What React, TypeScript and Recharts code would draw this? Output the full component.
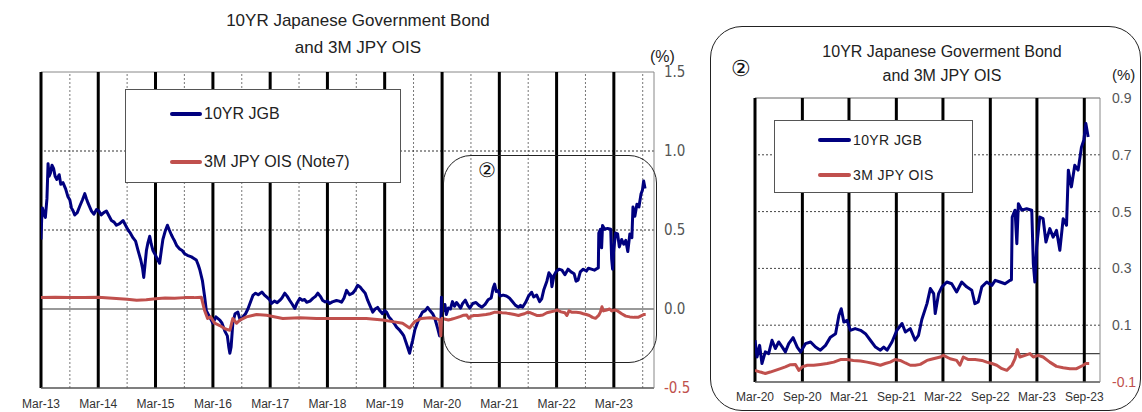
import React from 'react';
import { LineChart, Line, XAxis, YAxis, ReferenceLine, Legend } from 'recharts';

const NARROW = "'Liberation Sans Narrow', 'DejaVu Sans Condensed', 'Arial Narrow', sans-serif";
const SANS = "'Liberation Sans', Arial, sans-serif";

const JGB_COLOR = '#00007f';
const OIS_COLOR = '#c0504d';

// 10YR JGB yield (%)
const jgbDates = [
  '2013-03-01', '2013-03-05', '2013-03-10', '2013-03-20', '2013-03-29', '2013-04-08', '2013-04-15', '2013-04-22',
  '2013-04-30', '2013-05-10', '2013-05-20', '2013-05-30', '2013-06-10', '2013-06-25', '2013-07-05', '2013-07-19',
  '2013-08-05', '2013-08-20', '2013-09-01', '2013-09-11', '2013-09-22', '2013-10-02', '2013-10-18', '2013-11-03',
  '2013-11-20', '2013-12-05', '2013-12-15', '2013-12-26', '2014-01-08', '2014-01-17', '2014-02-01', '2014-02-18',
  '2014-03-05', '2014-03-20', '2014-04-05', '2014-04-22', '2014-05-08', '2014-05-24', '2014-06-10', '2014-06-25',
  '2014-07-15', '2014-08-06', '2014-08-22', '2014-09-07', '2014-09-22', '2014-10-09', '2014-10-25', '2014-11-10',
  '2014-11-27', '2014-12-08', '2014-12-16', '2014-12-24', '2015-01-02', '2015-01-12', '2015-01-23', '2015-02-02',
  '2015-02-13', '2015-02-24', '2015-03-06', '2015-03-16', '2015-03-27', '2015-04-07', '2015-04-17', '2015-05-01',
  '2015-05-16', '2015-05-28', '2015-06-10', '2015-06-20', '2015-07-01', '2015-07-15', '2015-08-02', '2015-08-18',
  '2015-09-03', '2015-09-20', '2015-10-16', '2015-11-01', '2015-11-16', '2015-11-28', '2015-12-08', '2015-12-25',
  '2016-01-08', '2016-01-19', '2016-02-09', '2016-03-01', '2016-03-20', '2016-04-14', '2016-04-28', '2016-05-16',
  '2016-06-01', '2016-06-10', '2016-06-17', '2016-06-25', '2016-07-06', '2016-07-20', '2016-08-07', '2016-08-22',
  '2016-09-08', '2016-09-25', '2016-10-10', '2016-10-23', '2016-11-11', '2016-11-28', '2016-12-15', '2017-01-07',
  '2017-01-22', '2017-02-08', '2017-02-25', '2017-03-10', '2017-03-28', '2017-04-15', '2017-05-01', '2017-05-15',
  '2017-06-02', '2017-06-18', '2017-07-04', '2017-07-20', '2017-08-05', '2017-08-20', '2017-09-06', '2017-09-22',
  '2017-10-06', '2017-10-20', '2017-11-10', '2017-11-28', '2017-12-15', '2017-12-30', '2018-01-15', '2018-01-30',
  '2018-02-15', '2018-03-01', '2018-03-15', '2018-04-01', '2018-04-28', '2018-05-15', '2018-05-30', '2018-06-15',
  '2018-07-01', '2018-07-20', '2018-08-09', '2018-08-25', '2018-09-10', '2018-09-25', '2018-10-12', '2018-10-28',
  '2018-11-13', '2018-11-28', '2018-12-15', '2018-12-30', '2019-01-15', '2019-01-28', '2019-02-15', '2019-03-01',
  '2019-03-13', '2019-03-28', '2019-04-14', '2019-04-30', '2019-05-16', '2019-06-01', '2019-06-17', '2019-07-01',
  '2019-07-18', '2019-07-28', '2019-08-07', '2019-08-16', '2019-08-26', '2019-09-10', '2019-09-27', '2019-10-12',
  '2019-10-28', '2019-11-15', '2019-11-30', '2019-12-15', '2020-01-01', '2020-01-15', '2020-02-01', '2020-02-14',
  '2020-02-22', '2020-02-26',
  '2020-03-01', '2020-03-09', '2020-03-19', '2020-03-28', '2020-04-10', '2020-04-23', '2020-05-06', '2020-05-19',
  '2020-06-01', '2020-06-15', '2020-06-27', '2020-07-10', '2020-07-27', '2020-08-12', '2020-08-25', '2020-09-13',
  '2020-10-03', '2020-10-22', '2020-11-10', '2020-11-30', '2020-12-19', '2021-01-08', '2021-01-21', '2021-01-30',
  '2021-02-09', '2021-02-22', '2021-03-06', '2021-03-25', '2021-04-15', '2021-05-04', '2021-05-23', '2021-06-12',
  '2021-07-01', '2021-07-14', '2021-07-27', '2021-08-15', '2021-09-03', '2021-09-23', '2021-10-06', '2021-10-25',
  '2021-11-13', '2021-11-26', '2021-12-09', '2021-12-29', '2022-01-11', '2022-01-24', '2022-01-30', '2022-02-12',
  '2022-02-25', '2022-03-16', '2022-04-04', '2022-04-23', '2022-05-13', '2022-06-01', '2022-06-21', '2022-07-03',
  '2022-07-16', '2022-07-30', '2022-08-18', '2022-09-07', '2022-09-20', '2022-10-09', '2022-10-28', '2022-11-17',
  '2022-11-22', '2022-11-25', '2022-12-06', '2022-12-13', '2022-12-19', '2023-01-01', '2023-01-20', '2023-02-09',
  '2023-02-15', '2023-02-21', '2023-02-28', '2023-03-12', '2023-03-25', '2023-04-05', '2023-04-20', '2023-05-03',
  '2023-05-16', '2023-05-29', '2023-06-11', '2023-06-24', '2023-07-01', '2023-07-13', '2023-07-26', '2023-08-08',
  '2023-08-21', '2023-08-30', '2023-09-07', '2023-09-16',
];
const jgbYields = [
  0.44, 0.56, 0.64, 0.60, 0.58, 0.70, 0.92, 0.84,
  0.86, 0.91, 0.89, 0.84, 0.82, 0.85, 0.79, 0.80,
  0.76, 0.71, 0.69, 0.64, 0.62, 0.595, 0.61, 0.65,
  0.69, 0.73, 0.70, 0.67, 0.64, 0.62, 0.60, 0.63,
  0.62, 0.595, 0.61, 0.62, 0.59, 0.56, 0.55, 0.53,
  0.54, 0.56, 0.53, 0.50, 0.48, 0.45, 0.43, 0.37,
  0.31, 0.26, 0.20, 0.28, 0.37, 0.42, 0.46, 0.41,
  0.37, 0.35, 0.33, 0.31, 0.29, 0.37, 0.44, 0.49,
  0.53, 0.50, 0.47, 0.45, 0.43, 0.40, 0.38, 0.37,
  0.35, 0.34, 0.33, 0.32, 0.31, 0.28, 0.25, 0.18,
  0.08, -0.01, -0.05, -0.09, -0.05, -0.07, -0.09, -0.14,
  -0.17, -0.24, -0.28, -0.24, -0.09, -0.03, -0.02, -0.07,
  -0.05, -0.03, 0.0, 0.035, 0.086, 0.10, 0.09, 0.107,
  0.09, 0.075, 0.06, 0.035, 0.05, 0.04, 0.054, 0.07,
  0.10, 0.08, 0.054, 0.03, 0.003, 0.04, 0.067, 0.055,
  0.06, 0.043, 0.05, 0.067, 0.08, 0.10, 0.08, 0.054,
  0.045, 0.05, 0.035, 0.045, 0.054, 0.05, 0.043, 0.07,
  0.118, 0.09, 0.10, 0.12, 0.15, 0.14, 0.118, 0.10,
  0.054, 0.02, -0.02, 0.0, 0.01, -0.01, -0.03, -0.01,
  -0.02, -0.05, -0.07, -0.09, -0.115, -0.13, -0.15, -0.17,
  -0.22, -0.25, -0.28, -0.24, -0.20, -0.13, -0.084, -0.05,
  -0.02, -0.01, 0.01, -0.01, -0.03, -0.06, -0.12, -0.17,
  -0.10, 0.075,
  0.047, -0.012, 0.029, -0.035, 0.006, 0.0, 0.047, 0.018,
  0.041, 0.023, 0.006, 0.035, 0.056, 0.023, 0.006, 0.035,
  0.041, 0.023, 0.012, 0.029, 0.058, 0.07, 0.135, 0.158,
  0.111, 0.117, 0.082, 0.088, 0.082, 0.07, 0.047, 0.023,
  0.012, 0.023, 0.012, 0.041, 0.082, 0.106, 0.076, 0.088,
  0.047, 0.064, 0.12, 0.176, 0.229, 0.211, 0.141, 0.211,
  0.235, 0.252, 0.246, 0.217, 0.252, 0.235, 0.223, 0.176,
  0.182, 0.235, 0.252, 0.24, 0.258, 0.252, 0.246, 0.258,
  0.26, 0.481, 0.505, 0.387, 0.528, 0.505, 0.51, 0.505,
  0.317, 0.252, 0.375, 0.481, 0.475, 0.393, 0.44, 0.41,
  0.434, 0.364, 0.475, 0.452, 0.646, 0.587, 0.663, 0.646,
  0.727, 0.751, 0.81, 0.763,
];

// 3M JPY OIS (%)
const oisDates = [
  '2013-03-01', '2013-06-01', '2013-09-01', '2013-12-01', '2014-03-01', '2014-06-01', '2014-09-01', '2014-11-01',
  '2015-01-01', '2015-03-01', '2015-05-01', '2015-07-01', '2015-09-01', '2015-11-01', '2015-12-18', '2016-01-08',
  '2016-01-27', '2016-02-15', '2016-03-12', '2016-04-14', '2016-05-16', '2016-06-17', '2016-07-06', '2016-07-30',
  '2016-08-20', '2016-10-01', '2016-12-04', '2017-02-06', '2017-05-20', '2017-09-06', '2017-12-21', '2018-04-04',
  '2018-07-20', '2018-11-04', '2019-02-16', '2019-04-21', '2019-06-23', '2019-08-07', '2019-09-08', '2019-10-21',
  '2019-12-13', '2020-01-24', '2020-02-14', '2020-02-22', '2020-02-26',
  '2020-03-01', '2020-03-22', '2020-04-10', '2020-04-29', '2020-05-19', '2020-06-08', '2020-06-27', '2020-07-17',
  '2020-08-05', '2020-08-18', '2020-08-31', '2020-09-20', '2020-10-15', '2020-11-10', '2020-12-06', '2021-01-01',
  '2021-01-27', '2021-02-22', '2021-03-18', '2021-04-15', '2021-05-10', '2021-06-05', '2021-07-01', '2021-07-20',
  '2021-08-08', '2021-08-27', '2021-09-16', '2021-10-06', '2021-10-25', '2021-11-13', '2021-12-03', '2021-12-29',
  '2022-01-11', '2022-02-19', '2022-03-03', '2022-03-29', '2022-04-23', '2022-05-06', '2022-05-19', '2022-06-08',
  '2022-07-04', '2022-07-30', '2022-08-18', '2022-09-07', '2022-09-26', '2022-10-16', '2022-11-04', '2022-11-24',
  '2022-12-06', '2022-12-15', '2022-12-25', '2023-01-14', '2023-02-02', '2023-02-15', '2023-03-06', '2023-03-25',
  '2023-04-20', '2023-05-16', '2023-06-11', '2023-07-07', '2023-08-02', '2023-08-28', '2023-09-07', '2023-09-20',
];
const oisRates = [
  0.072, 0.075, 0.073, 0.072, 0.074, 0.068, 0.062, 0.055,
  0.058, 0.065, 0.07, 0.068, 0.072, 0.072, 0.075, -0.01,
  -0.06, -0.05, -0.09, -0.105, -0.125, -0.135, -0.06, -0.09,
  -0.07, -0.05, -0.035, -0.04, -0.06, -0.055, -0.06, -0.06,
  -0.06, -0.06, -0.07, -0.08, -0.09, -0.12, -0.08, -0.06,
  -0.055, -0.06, -0.07, -0.17, -0.07,
  -0.059, -0.065, -0.07, -0.065, -0.059, -0.053, -0.047, -0.039,
  -0.038, -0.059, -0.047, -0.041, -0.041, -0.038, -0.035, -0.03,
  -0.021, -0.021, -0.024, -0.026, -0.03, -0.035, -0.041, -0.035,
  -0.03, -0.021, -0.024, -0.033, -0.041, -0.041, -0.038, -0.024,
  -0.021, -0.012, -0.006, -0.018, -0.024, -0.041, -0.012, -0.021,
  -0.021, -0.024, -0.03, -0.035, -0.041, -0.053, -0.059, -0.041,
  -0.018, 0.014, -0.012, -0.006, 0.0, -0.012, -0.006, -0.012,
  -0.03, -0.045, -0.05, -0.053, -0.053, -0.041, -0.035, -0.035,
];

// axis ticks and guide lines
const leftMarchTicks = [
  '2013-03-01', '2014-03-01', '2015-03-01', '2016-03-01', '2017-03-01', '2018-03-01',
  '2019-03-01', '2020-03-01', '2021-03-01', '2022-03-01', '2023-03-01',
];
const leftSeptLines = [
  '2013-09-01', '2014-09-01', '2015-09-01', '2016-09-01', '2017-09-01', '2018-09-01',
  '2019-09-01', '2020-09-01', '2021-09-01', '2022-09-01', '2023-09-01',
];
const rightTicks = [
  '2020-03-01', '2020-09-01', '2021-03-01', '2021-09-01',
  '2022-03-01', '2022-09-01', '2023-03-01', '2023-09-01',
];
const leftYTicks = [-0.5, 0, 0.5, 1.0, 1.5];
const leftDottedY = [0.5, 1.0];
const rightYTicks = [-0.1, 0.1, 0.3, 0.5, 0.7, 0.9];
const rightDottedY = [0.1, 0.3, 0.5, 0.7];

const ts = (d: string) => Date.UTC(+d.slice(0, 4), +d.slice(5, 7) - 1, +d.slice(8, 10));
const MONTHS = ['Jan', 'Feb', 'Mar', 'Apr', 'May', 'Jun', 'Jul', 'Aug', 'Sep', 'Oct', 'Nov', 'Dec'];
const fmtDate = (t: number) => {
  const d = new Date(t);
  return `${MONTHS[d.getUTCMonth()]}-${String(d.getUTCFullYear()).slice(2)}`;
};

const jgbData = jgbDates.map((d, i) => ({ t: ts(d), v: jgbYields[i] }));
const oisData = oisDates.map((d, i) => ({ t: ts(d), v: oisRates[i] }));

const ZOOM_FROM = ts('2020-03-01');
const jgbRecent = jgbData.filter((p) => p.t >= ZOOM_FROM);
const oisRecent = oisData.filter((p) => p.t >= ZOOM_FROM);

const LEFT_DOMAIN = [ts('2013-03-01'), ts('2023-11-12')];
const RIGHT_DOMAIN = [ts('2020-03-01'), ts('2023-11-01')];

const makeYTick = (font: string, size: number) => (props: any) => {
  const { x, y, payload } = props;
  const v = payload.value as number;
  return (
    <text x={x} y={y} dy={5} textAnchor="start" fontFamily={font} fontSize={size}
      fill={v < 0 ? OIS_COLOR : '#555'}>
      {v.toFixed(1)}
    </text>
  );
};

const LegendBox = ({ payload, width, height, font, size, lineX, lineW, rowsY, spacing }: any) => (
  <div style={{
    position: 'relative', width, height, boxSizing: 'border-box',
    background: '#fff', border: '1px solid #555',
  }}>
    {(payload || []).map((p: any, i: number) => (
      <div key={p.value} style={{ position: 'absolute', left: lineX, top: rowsY[i] - 10, height: 20, display: 'flex', alignItems: 'center' }}>
        <div style={{ width: lineW, height: 4, background: p.color, borderRadius: 2 }} />
        <span style={{ marginLeft: 2, fontFamily: font, fontSize: size, color: '#222', letterSpacing: spacing, whiteSpace: 'nowrap' }}>
          {p.value}
        </span>
      </div>
    ))}
  </div>
);

const LeftChart = () => (
  <LineChart width={700} height={412} margin={{ top: 72, right: 6, bottom: 4, left: 41 }}
    style={{ position: 'absolute', left: 0, top: 0 }}>
    <XAxis dataKey="t" type="number" domain={LEFT_DOMAIN} allowDataOverflow
      ticks={leftMarchTicks.map(ts)} tickFormatter={fmtDate} interval={0}
      height={20} tickSize={0} tickMargin={11} axisLine={{ stroke: '#555', strokeWidth: 1.5 }}
      tick={{ fill: '#333', fontSize: 12, fontFamily: SANS }} />
    <YAxis orientation="right" domain={[-0.5, 1.5]} ticks={leftYTicks} allowDataOverflow
      width={40} tickSize={0} tickMargin={10} axisLine={{ stroke: '#888' }} tickLine={false}
      tick={makeYTick(NARROW, 15)} />
    <ReferenceLine y={1.5} stroke="#888" />
    {leftSeptLines.map((d) => (
      <ReferenceLine key={d} x={ts(d)} stroke="#777" strokeDasharray="2 2" />
    ))}
    {leftDottedY.map((v) => (
      <ReferenceLine key={v} y={v} stroke="#333" strokeDasharray="2 2" />
    ))}
    <ReferenceLine y={0} stroke="#777" strokeWidth={1.5} />
    {leftMarchTicks.map((d) => (
      <ReferenceLine key={d} x={ts(d)} stroke="#000" strokeWidth={3} />
    ))}
    <Legend layout="horizontal" verticalAlign="middle" align="center"
      wrapperStyle={{ left: 125, top: 89, width: 276, height: 94 }}
      content={(p: any) => (
        <LegendBox payload={p.payload} width={276} height={94} font={SANS} size={16}
          lineX={44} lineW={32} rowsY={[24, 72]} spacing={0} />
      )} />
    <Line data={jgbData} dataKey="v" name="10YR JGB" stroke={JGB_COLOR} strokeWidth={3}
      dot={false} isAnimationActive={false} strokeLinejoin="round" />
    <Line data={oisData} dataKey="v" name="3M JPY OIS (Note7)" stroke={OIS_COLOR} strokeWidth={3}
      dot={false} isAnimationActive={false} strokeLinejoin="round" />
  </LineChart>
);

const RightChart = () => (
  <LineChart width={430} height={412} margin={{ top: 98, right: 6, bottom: 6, left: 43 }}
    style={{ position: 'absolute', left: 712, top: 0 }}>
    <XAxis dataKey="t" type="number" domain={RIGHT_DOMAIN} allowDataOverflow
      ticks={rightTicks.map(ts)} tickFormatter={fmtDate} interval={0}
      height={24} tickSize={0} tickMargin={10} axisLine={{ stroke: '#555', strokeWidth: 1.5 }}
      tick={{ fill: '#333', fontSize: 12, fontFamily: SANS }} />
    <YAxis orientation="right" domain={[-0.1, 0.9]} ticks={rightYTicks} allowDataOverflow
      width={36} tickSize={0} tickMargin={12} axisLine={{ stroke: '#888' }} tickLine={false}
      tick={makeYTick(SANS, 14)} />
    <ReferenceLine y={0.9} stroke="#666" />
    {rightDottedY.map((v) => (
      <ReferenceLine key={v} y={v} stroke="#444" strokeDasharray="2 2" />
    ))}
    <ReferenceLine y={0} stroke="#444" strokeWidth={1.2} />
    {rightTicks.map((d) => (
      <ReferenceLine key={d} x={ts(d)} stroke="#000" strokeWidth={3} />
    ))}
    <Legend layout="horizontal" verticalAlign="middle" align="center"
      wrapperStyle={{ left: 62, top: 120, width: 199, height: 73 }}
      content={(p: any) => (
        <LegendBox payload={p.payload} width={199} height={73} font={SANS} size={14}
          lineX={43} lineW={33} rowsY={[19, 54]} spacing={0.4} />
      )} />
    <Line data={jgbRecent} dataKey="v" name="10YR JGB" stroke={JGB_COLOR} strokeWidth={3}
      dot={false} isAnimationActive={false} strokeLinejoin="round" />
    <Line data={oisRecent} dataKey="v" name="3M JPY OIS" stroke={OIS_COLOR} strokeWidth={3}
      dot={false} isAnimationActive={false} strokeLinejoin="round" />
  </LineChart>
);

const textStyle = (left: number, top: number, size: number, font: string, extra: any = {}): React.CSSProperties => ({
  position: 'absolute', left, top, fontSize: size, fontFamily: font, color: '#222',
  lineHeight: 1, whiteSpace: 'nowrap', ...extra,
});

export default function App() {
  return (
    <div style={{ position: 'absolute', left: 0, top: 0, width: 1142, height: 412, background: '#fff', overflow: 'hidden' }}>
      <LeftChart />
      <div style={textStyle(158, 12, 17, SANS, { width: 400, textAlign: 'center' })}>10YR Japanese Government Bond</div>
      <div style={textStyle(158, 39, 17, SANS, { width: 400, textAlign: 'center' })}>and 3M JPY OIS</div>
      <div style={textStyle(650, 49, 16, SANS)}>(%)</div>
      <div style={{ position: 'absolute', left: 443, top: 155, width: 214, height: 208, boxSizing: 'border-box', border: '1.5px solid #222', borderRadius: 28 }} />
      <div style={textStyle(478, 160, 20, SANS, { color: '#111' })}>②</div>

      <div style={{ position: 'absolute', left: 710, top: 26, width: 431, height: 385, boxSizing: 'border-box', border: '1.5px solid #222', borderRadius: 32 }} />
      <RightChart />
      <div style={textStyle(742, 44, 16, SANS, { width: 400, textAlign: 'center' })}>10YR Japanese Goverment Bond</div>
      <div style={textStyle(742, 68, 16, SANS, { width: 400, textAlign: 'center' })}>and 3M JPY OIS</div>
      <div style={textStyle(1112, 67, 15, SANS)}>(%)</div>
      <div style={textStyle(731, 58, 22, SANS, { color: '#111' })}>②</div>
    </div>
  );
}
